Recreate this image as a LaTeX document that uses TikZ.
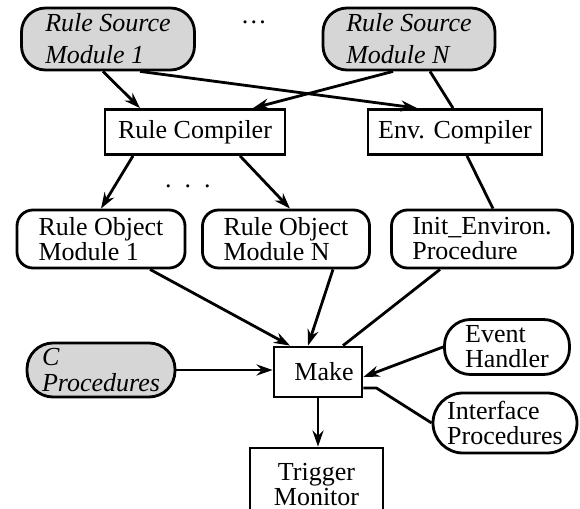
\documentclass[tikz,border=0pt]{standalone}
\usepackage{fontspec}
\setmainfont{Liberation Serif}
\usetikzlibrary{arrows.meta}
\begin{document}
\begin{tikzpicture}[x=0.5pt,y=-0.5pt,line width=1.4pt,
		every node/.style={font=\fontsize{13}{12.5}\selectfont,inner sep=0pt,align=left},
		src/.style={draw,fill=black!16,rounded corners=12pt,font=\fontsize{13}{16}\selectfont\itshape},
		obj/.style={draw,rounded corners=8pt},
		pill/.style={draw,rounded corners=13pt},
		comp/.style={draw,align=center},
		arr/.style={-{Stealth[length=8pt,width=5.5pt]}}]
	\useasboundingbox (0,0) rectangle (580,509);
	\clip (0,0) rectangle (580,509);
	% sources
	\node[src,minimum width=86.5pt,minimum height=31pt] (rs1) at (108,39) {Rule Source\\Module 1};
	\node (dots1) at (254,22) {\dots};
	\node[src,minimum width=86pt,minimum height=31pt] (rsn) at (409,39) {Rule Source\\Module N};
	% compilers
	\node[comp,minimum width=90pt,minimum height=22.5pt] (rc) at (195,132) {Rule Compiler};
	\node[comp,minimum width=87pt,minimum height=22.5pt] (ec) at (455,132) {Env. Compiler};
	\node (dots2) at (188,186) {.\ \ .\ \ .};
	% objects
	\node[obj,minimum width=84pt,minimum height=29pt] (rom1) at (101,239) {Rule Object\\Module 1};
	\node[obj,minimum width=83.5pt,minimum height=29pt] (romn) at (286,239) {Rule Object\\Module N};
	\node[obj,minimum width=90.5pt,minimum height=29pt] (init) at (482,239) {Init\_Environ.\\Procedure};
	% make
	\node[comp,minimum width=44pt,minimum height=25pt] (make) at (318,372) {\hspace{6pt}Make};
	\node[src,rounded corners=13pt,minimum width=74pt,minimum height=27pt,font=\fontsize{13}{13}\selectfont\itshape] (cproc) at (101,370) {C\\Procedures};
	\node[pill,minimum width=62.5pt,minimum height=27.5pt] (evh) at (507,347) {Event\\Handler};
	\node[pill,rounded corners=15pt,minimum width=72pt,minimum height=30pt] (ifp) at (505,423) {Interface\\Procedures};
	\node[comp,minimum width=66.5pt,minimum height=37pt] (trig) at (316.5,485) {Trigger\\Monitor};
	% connectors
	\draw[arr] ([xshift=-2.5pt]rs1.south) -- ([xshift=-27.5pt]rc.north);
	\draw[arr] ([xshift=16pt]rs1.south) -- ([xshift=-19pt]ec.north);
	\draw[arr] ([xshift=-8pt]rsn.south) -- ([xshift=29pt]rc.north);
	\draw ([xshift=10.5pt]rsn.south) -- ([xshift=-1pt]ec.north);
	\draw[arr] ([xshift=-31pt]rc.south) -- (rom1.north);
	\draw[arr] ([xshift=22.5pt]rc.south) -- ([xshift=2pt]romn.north);
	\draw ([xshift=6pt]ec.south) -- ([xshift=5.5pt]init.north);
	\draw[arr] ([xshift=24.5pt]rom1.south) -- ([xshift=-14pt]make.north);
	\draw[arr] ([xshift=23.5pt]romn.south) -- ([xshift=-5pt]make.north);
	\draw ([xshift=-21pt]init.south) -- ([xshift=12.5pt]make.north);
	\draw[arr] (cproc.east) -- (cproc.east -| make.west);
	\draw[arr] (evh.west) -- ([yshift=-2.5pt]make.east);
	\draw ([yshift=-8pt]make.east) -- ++(13,0) -- (ifp.west);
	\draw[arr] (make.south) -- (make.south |- trig.north);
\end{tikzpicture}
\end{document}
